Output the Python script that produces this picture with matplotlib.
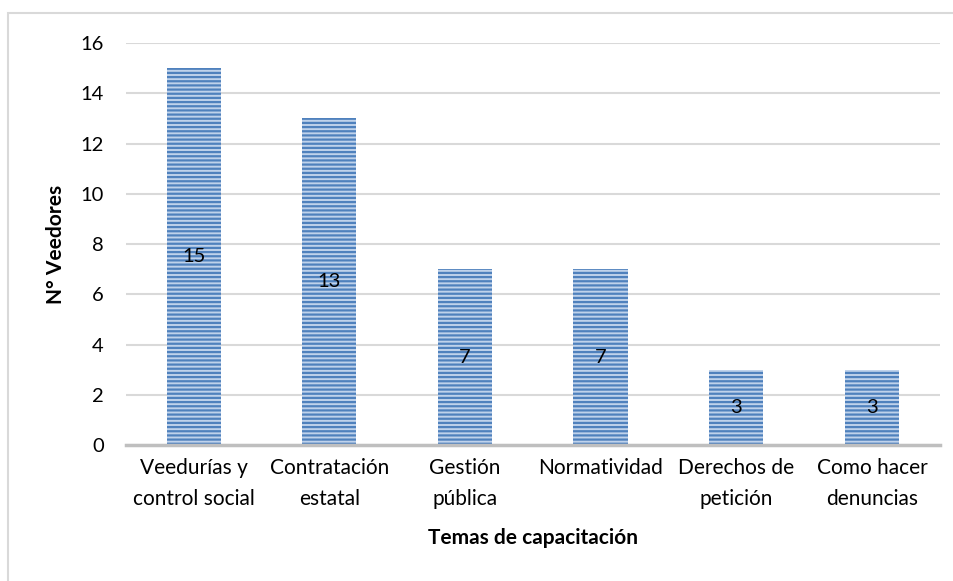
import matplotlib.pyplot as plt
from matplotlib.patches import Rectangle

# data
temas = ['Veedurías y\ncontrol social', 'Contratación\nestatal', 'Gestión\npública',
         'Normatividad', 'Derechos de\npetición', 'Como hacer\ndenuncias']
veedores = [15, 13, 7, 7, 3, 3]
y_ticks = [0, 2, 4, 6, 8, 10, 12, 14, 16]

plt.rcParams['font.family'] = ['Lato', 'DejaVu Sans']
plt.rcParams['hatch.linewidth'] = 1.6
plt.rcParams['hatch.color'] = '#4f81bd'

fig = plt.figure(figsize=(9.54, 5.81), dpi=100)
ax = fig.add_axes([0.132, 0.234, 0.853, 0.692])

# light frame around the chart area
fig.patches.append(Rectangle((8 / 954, -0.05), 1.2, 1 - 13 / 581 + 0.05,
                             transform=fig.transFigure, fill=False,
                             edgecolor='#d9d9d9', linewidth=1.5))

x = range(len(temas))
bars = ax.bar(x, veedores, width=0.4, color='#bfd2eb', edgecolor='#4f81bd',
              linewidth=0, hatch='----', zorder=2)

for i, v in enumerate(veedores):
    ax.text(i, v / 2, str(v), ha='center', va='center', fontsize=14.5, color='black', zorder=3)

ax.set_xlim(-0.5, len(temas) - 0.5)
ax.set_ylim(0, 16)
ax.set_yticks(y_ticks)
ax.set_xticks(list(x))
ax.set_xticklabels(temas, fontsize=15, linespacing=1.7)
ax.tick_params(axis='y', labelsize=14.5, length=0, pad=16)
ax.tick_params(axis='x', length=0, pad=9)

ax.yaxis.grid(True, color='#d9d9d9', linewidth=1.5, zorder=0)
for s in ['top', 'right', 'left']:
    ax.spines[s].set_visible(False)
ax.spines['bottom'].set_color('#bfbfbf')
ax.spines['bottom'].set_linewidth(2.5)
ax.spines['bottom'].set_zorder(4)

ax.set_ylabel('N° Veedores', fontsize=15, fontweight='bold', labelpad=10)
ax.set_xlabel('Temas de capacitación', fontsize=15, fontweight='bold', labelpad=14)

plt.savefig('out.png', dpi=100)
